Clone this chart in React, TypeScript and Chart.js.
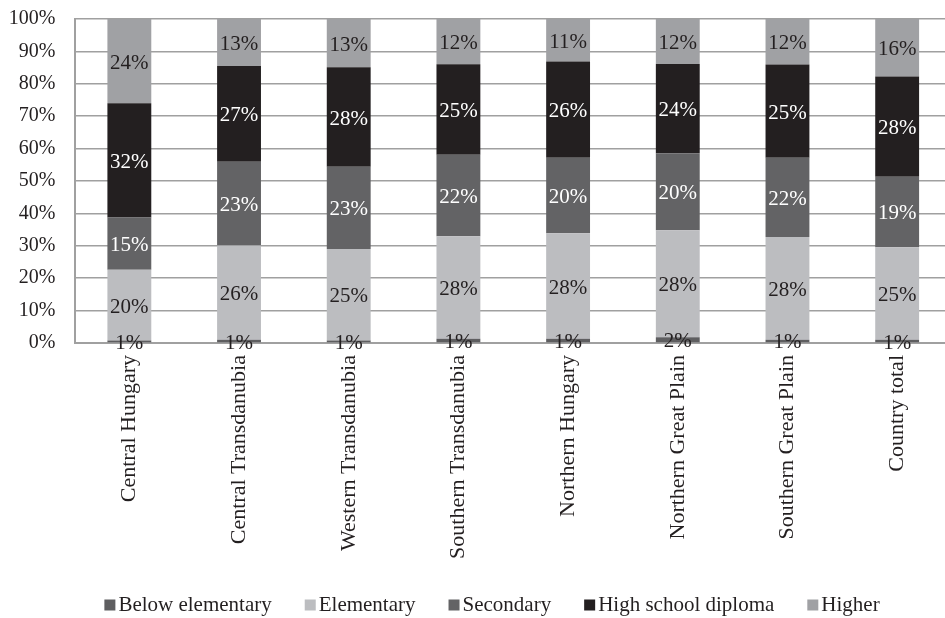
import { useEffect, useRef } from "react";
import { Chart, registerables } from "chart.js";

Chart.register(...registerables);

const categories = [
  "Central Hungary",
  "Central Transdanubia",
  "Western Transdanubia",
  "Southern Transdanubia",
  "Northern Hungary",
  "Northern Great Plain",
  "Southern Great Plain",
  "Country total",
];

const seriesNames = ["Below elementary", "Elementary", "Secondary", "High school diploma", "Higher"];

// shares (%) as printed on the chart; the bars are stacked to 100%
const belowElementary = [0.7, 0.9, 0.7, 1.14, 1.1, 1.5, 0.9, 0.9];
const elementary = [20.1, 26.2, 25.4, 27.9, 28.1, 28.4, 27.9, 25.4];
const secondary = [14.8, 23.2, 22.8, 22.1, 20.1, 20.4, 21.6, 19.4];
const highSchoolDiploma = [32.4, 26.6, 27.6, 24.6, 25.6, 23.7, 25.3, 27.5];
const higher = [23.9, 13.05, 13.4, 12.3, 11.3, 11.9, 12.4, 15.8];

const yTickValues = [0, 10, 20, 30, 40, 50, 60, 70, 80, 90, 100];

const seriesColors = ["#5e5e60", "#bcbdc0", "#636365", "#231f20", "#a0a1a4"];
const labelColors = ["#231f20", "#231f20", "#ffffff", "#ffffff", "#231f20"];

const FONT = '"Liberation Serif", "Times New Roman", serif';

export default function App() {
  const ref = useRef<HTMLCanvasElement | null>(null);

  useEffect(() => {
    if (!ref.current) return;
    const raw = [belowElementary, elementary, secondary, highSchoolDiploma, higher];
    const totals = categories.map((_, i) => raw.reduce((s, arr) => s + arr[i], 0));
    const normalized = raw.map((arr) => arr.map((v, i) => (v / totals[i]) * 100));

    const labelPlugin = {
      id: "segLabels",
      afterDatasetsDraw(chart: any) {
        const ctx = chart.ctx;
        ctx.save();
        ctx.font = `21px ${FONT}`;
        ctx.textAlign = "center";
        ctx.textBaseline = "middle";
        chart.data.datasets.forEach((_: any, di: number) => {
          const meta = chart.getDatasetMeta(di);
          meta.data.forEach((bar: any, i: number) => {
            const p = bar.getProps(["x", "y", "base"], true);
            ctx.fillStyle = labelColors[di];
            ctx.fillText(Math.round(raw[di][i]) + "%", p.x, (p.y + p.base) / 2 + 2);
          });
        });
        ctx.restore();
      },
    };

    const legendPlugin = {
      id: "bottomLegend",
      afterDraw(chart: any) {
        const ctx = chart.ctx;
        ctx.save();
        ctx.font = `21px ${FONT}`;
        ctx.textBaseline = "middle";
        ctx.textAlign = "left";
        const box = 11;
        const gap = 3;
        const spacing = 33;
        const widths = chart.data.datasets.map((ds: any) => ctx.measureText(ds.label).width);
        const total =
          widths.reduce((s: number, w: number) => s + box + gap + w, 0) + spacing * (widths.length - 1);
        let x = 492 - total / 2;
        const y = 605;
        chart.data.datasets.forEach((ds: any, i: number) => {
          ctx.fillStyle = ds.backgroundColor;
          ctx.fillRect(x, y - box / 2, box, box);
          x += box + gap;
          ctx.fillStyle = "#231f20";
          ctx.fillText(ds.label, x, y);
          x += widths[i] + spacing;
        });
        ctx.restore();
      },
    };

    Chart.defaults.font.family = FONT;
    Chart.defaults.color = "#231f20";

    const chart = new Chart(ref.current, {
      type: "bar",
      data: {
        labels: categories,
        datasets: seriesNames.map((name, di) => ({
          label: name,
          data: normalized[di],
          backgroundColor: seriesColors[di],
          borderWidth: 0,
          barPercentage: 0.4,
          categoryPercentage: 1,
        })),
      },
      options: {
        animation: false,
        responsive: false,
        layout: { padding: { top: 19, left: 0, right: 0, bottom: 57 } },
        plugins: {
          tooltip: { enabled: false },
          legend: { display: false },
        },
        scales: {
          x: {
            stacked: true,
            grid: { display: false, drawTicks: false },
            border: { display: true, color: "#a0a0a0", width: 2 },
            ticks: {
              minRotation: 90,
              maxRotation: 90,
              padding: 12,
              font: { size: 22, family: FONT },
              color: "#231f20",
            },
            afterFit: (scale: any) => {
              scale.height = 225;
              scale.paddingLeft = 0;
              scale.paddingRight = 0;
            },
          },
          y: {
            stacked: true,
            min: 0,
            max: 100,
            afterBuildTicks: (scale: any) => {
              scale.ticks = yTickValues.map((v) => ({ value: v }));
            },
            grid: { color: "#a0a0a0", lineWidth: 1.5, drawTicks: false },
            border: { display: true, color: "#a0a0a0", width: 2 },
            ticks: {
              padding: 19,
              font: { size: 20, family: FONT },
              color: "#231f20",
              callback: (v: any) => v + "%",
            },
            afterFit: (scale: any) => {
              scale.width = 74.5;
              scale.paddingTop = 0;
              scale.paddingBottom = 0;
            },
          },
        },
      },
      plugins: [labelPlugin, legendPlugin],
    });
    return () => chart.destroy();
  }, []);

  return (
    <div
      style={{
        position: "fixed",
        left: 0,
        top: 0,
        width: 945,
        height: 618,
        overflow: "hidden",
        background: "#fff",
      }}
    >
      <canvas ref={ref} width={952} height={625} style={{ display: "block" }} />
    </div>
  );
}
